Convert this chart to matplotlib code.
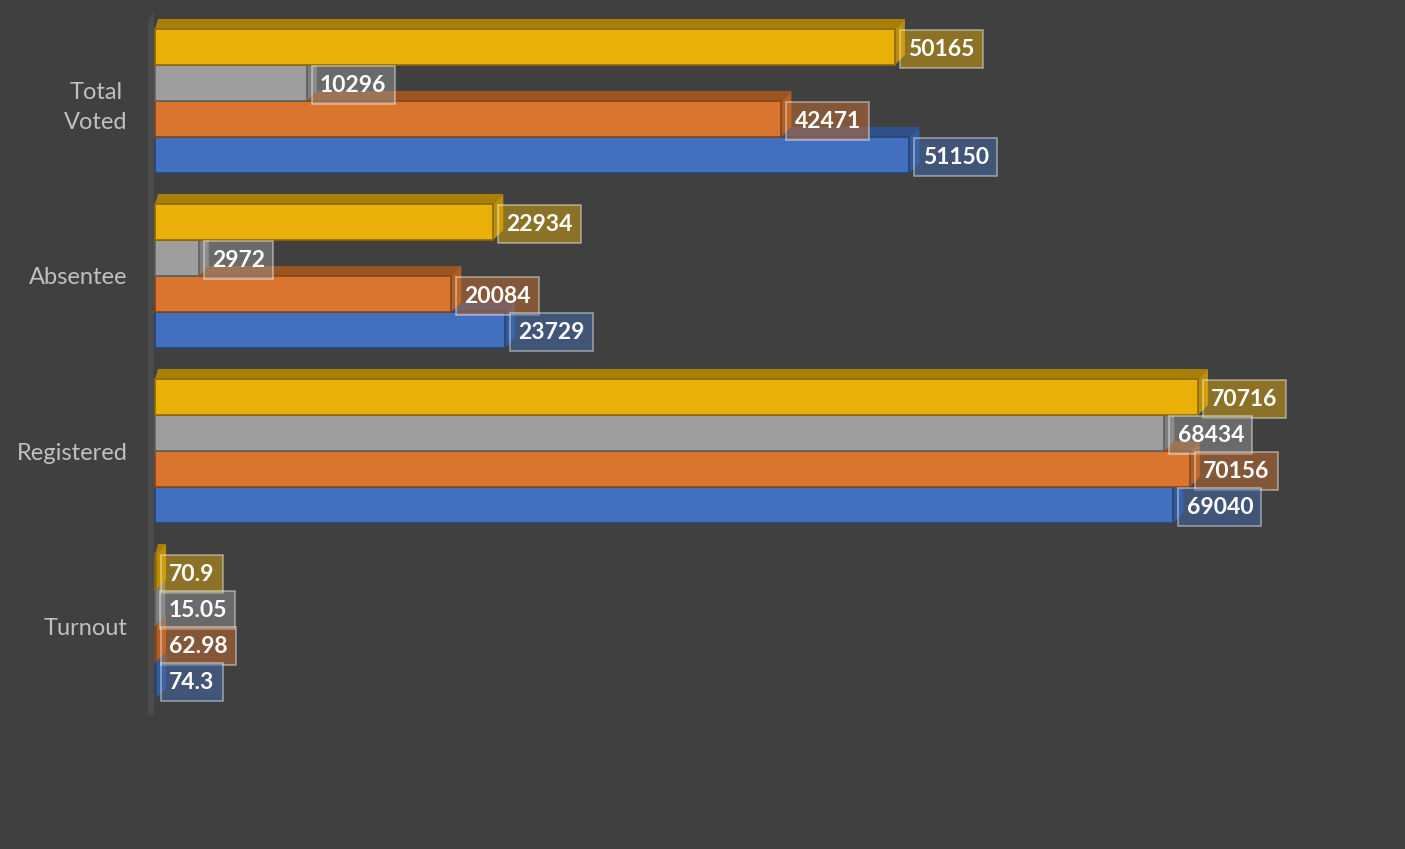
import matplotlib.pyplot as plt
from matplotlib.patches import Polygon, Rectangle
from matplotlib.colors import to_rgb

categories = ['Total\nVoted', 'Absentee', 'Registered', 'Turnout']
yellow = [50165, 22934, 70716, 70.9]
gray = [10296, 2972, 68434, 15.05]
orange = [42471, 20084, 70156, 62.98]
blue = [51150, 23729, 69040, 74.3]

series = [yellow, gray, orange, blue]
colors = ['#EAB00A', '#9E9E9E', '#D9752F', '#4270BE']

bg = '#404040'
plt.rcParams['font.family'] = ['Lato', 'DejaVu Sans']

fig = plt.figure(figsize=(14.05, 8.49), dpi=100, facecolor=bg)
ax = fig.add_axes([140 / 1405, 0, 1 - 140 / 1405, 1])
ax.set_facecolor(bg)

px = 1 / 0.01475          # data units per pixel along x
xmin, xmax = -15 * px, 1250 * px
ax.set_xlim(xmin, xmax)
ax.set_ylim(4.274, -0.577)

h = 36 / 175
dx = 10 * px
dy = 10 / 175


def darker(c, f):
    r, g, b = to_rgb(c)
    return (r * f, g * f, b * f)


# left wall
ax.add_patch(Polygon([(-7 * px, -0.46), (-1 * px, -0.51), (-1 * px, 3.51), (-7 * px, 3.51)],
                     closed=True, fc='#4b4b4b', ec='none', zorder=1))

# bars drawn bottom series first so the one above covers the top face
for gi in range(len(categories)):
    for si in reversed(range(len(series))):
        v = series[si][gi]
        c = colors[si]
        yc = gi + (si - 1.5) * h
        top, bot = yc - h / 2, yc + h / 2
        z = 2 + (len(series) - si) * 0.1
        ax.add_patch(Polygon([(0, top), (v, top), (v + dx, top - dy), (dx * 0.3, top - dy)],
                             closed=True, fc=darker(c, 0.72), ec='none', zorder=z))
        ax.add_patch(Polygon([(v, top), (v, bot), (v + dx, bot - dy), (v + dx, top - dy)],
                             closed=True, fc=darker(c, 0.8), ec='none', zorder=z))
        ax.add_patch(Rectangle((0, top), v, h, fc=c, ec=darker(c, 0.6), lw=1.2, zorder=z + 0.01))

# data labels
for gi in range(len(categories)):
    for si in range(len(series)):
        v = series[si][gi]
        yc = gi + (si - 1.5) * h
        r, g, b = to_rgb(colors[si])
        ax.annotate(f'{v:g}', xy=(v, yc), xytext=(9.5, -1.5), textcoords='offset points',
                    ha='left', va='center', color='white', fontsize=16.5, fontweight='bold',
                    zorder=10,
                    bbox=dict(boxstyle='square,pad=0.36', fc=(r, g, b, 0.45),
                              ec=(1, 1, 1, 0.45), lw=1.2))

ax.set_yticks(range(len(categories)))
ax.set_yticklabels(categories, color='#C0C0C0', fontsize=17, multialignment='center',
                   linespacing=1.55)
ax.tick_params(axis='y', length=0, pad=9)
ax.set_xticks([])
for s in ax.spines.values():
    s.set_visible(False)

fig.savefig('out.png', dpi=100, facecolor=bg)
